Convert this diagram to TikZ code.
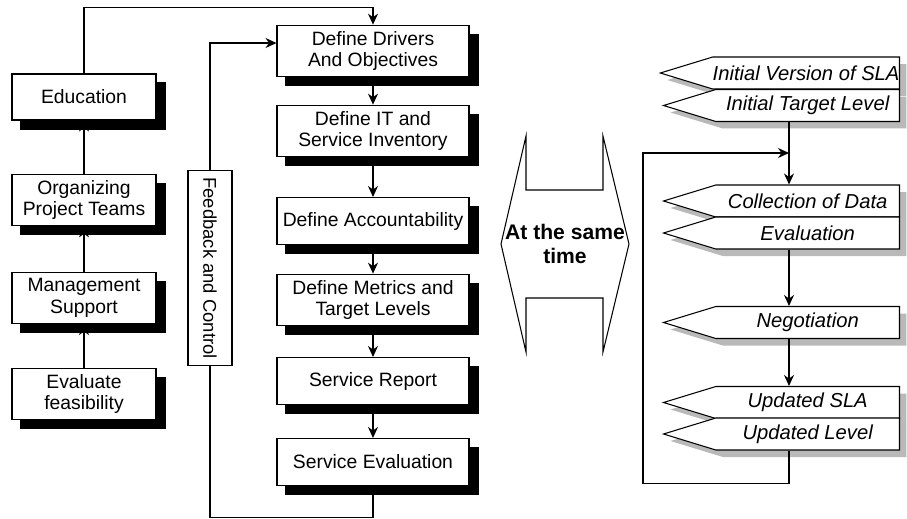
\documentclass[tikz,border=0pt]{standalone}
\usepackage{fontspec}
\setmainfont{Liberation Sans}
\usetikzlibrary{positioning,arrows.meta,shapes.symbols,calc,backgrounds}
\tikzset{
stepbox/.style={
draw,
semithick,
minimum width=3.84cm,
minimum height=0.94cm,
align=center,
fill=white,
font=\fontsize{11}{12.5}\selectfont
},
sidebox/.style={
stepbox,
minimum width=2.88cm,
minimum height=0.92cm
},
tag/.style={
draw,
semithick,
shape=signal,
signal to=west,
signal pointer angle=34,
minimum width=4.72cm,
minimum height=0.64cm,
inner xsep=0pt,
inner ysep=1pt,
fill=white,
anchor=east,
font=\fontsize{11.5}{13}\selectfont\itshape,
preaction={fill=gray!55,transform canvas={shift={(0.14cm,-0.14cm)}}}
},
arrow/.style={
-{Stealth[length=2.2mm,width=2mm]},
semithick
}
}
\begin{document}
\begin{tikzpicture}[x=0.02cm,y=-0.02cm]
\useasboundingbox(0,0) rectangle (907,518);
% preparation
\node[sidebox](edu) at (84,97){Education};
\node[sidebox](org) at (84,200){Organizing\\Project Teams};
\node[sidebox](mgt) at (84,298){Management\\Support};
\node[sidebox](feas) at (84,394){Evaluate\\feasibility};
% main steps
\node[stepbox](drv) at (373,51){Define Drivers\\And Objectives};
\node[stepbox](inv) at (373,131){Define IT and\\Service Inventory};
\node[stepbox,inner xsep=1pt](resp) at (373,221){Define Accountability};
\node[stepbox](met) at (373,300){Define Metrics and\\Target Levels};
\node[stepbox](rep) at (373,381){Service Report};
\node[stepbox](sev) at (373,462){Service Evaluation};
\node[draw,semithick,rotate=-90,minimum width=3.9cm,minimum height=0.88cm,
font=\fontsize{10.5}{12}\selectfont](fb) at (210,268){Feedback and Control};

% shadows
\begin{scope}[on background layer]
\fill[white](0,0) rectangle (907,518);
\foreach \n in {edu,org,mgt,feas,drv,inv,resp,met,rep,sev}
\fill[black]([shift={(9,9)}]\n.south west) rectangle ([shift={(9,9)}]\n.north east);
\end{scope}

\foreach \x/\y in {feas/mgt,mgt/org,org/edu,drv/inv,inv/resp,resp/met,met/rep,rep/sev}
\draw[arrow](\x)--(\y);
\draw[arrow](edu.north)--++(0,-66)-|(drv.north);
\draw[arrow](fb.west)|-([yshift=0.16cm]drv.west);
\draw[semithick](sev.south)--++(0,31)-|(fb.east);

% parallel
\draw[semithick](526,136)--(526,190)--(603,190)--(603,136)--(629,244)--(603,352)
--(603,298)--(526,298)--(526,352)--(501,244)--cycle;
\node[font=\fontsize{12}{14}\selectfont\bfseries,align=center](same) at (565,244){At the same\\time};

% SLA cycle
\node[tag](sla) at (900,73){Initial Version of SLA};
\node[tag](lvl) at (900,105.5){Initial Target Level};
\node[tag](col) at (900,201){Collection of Data};
\node[tag](ev) at (900,233){Evaluation};
\node[tag](neg) at (900,322.5){Negotiation};
\node[tag](usla) at (900,402.5){Updated SLA};
\node[tag](ulvl) at (900,434){Updated Level};
\coordinate(rx) at (789,0);
\coordinate(join) at (789,153);

\foreach \x/\y in {lvl/col,ev/neg,neg/usla}
\draw[arrow](\x.south -| rx)--(\y.north -| rx);
\draw[arrow](ulvl.south -| rx)--++(0,33)--++(-146,0)|-(join);
\end{tikzpicture}
\end{document}
